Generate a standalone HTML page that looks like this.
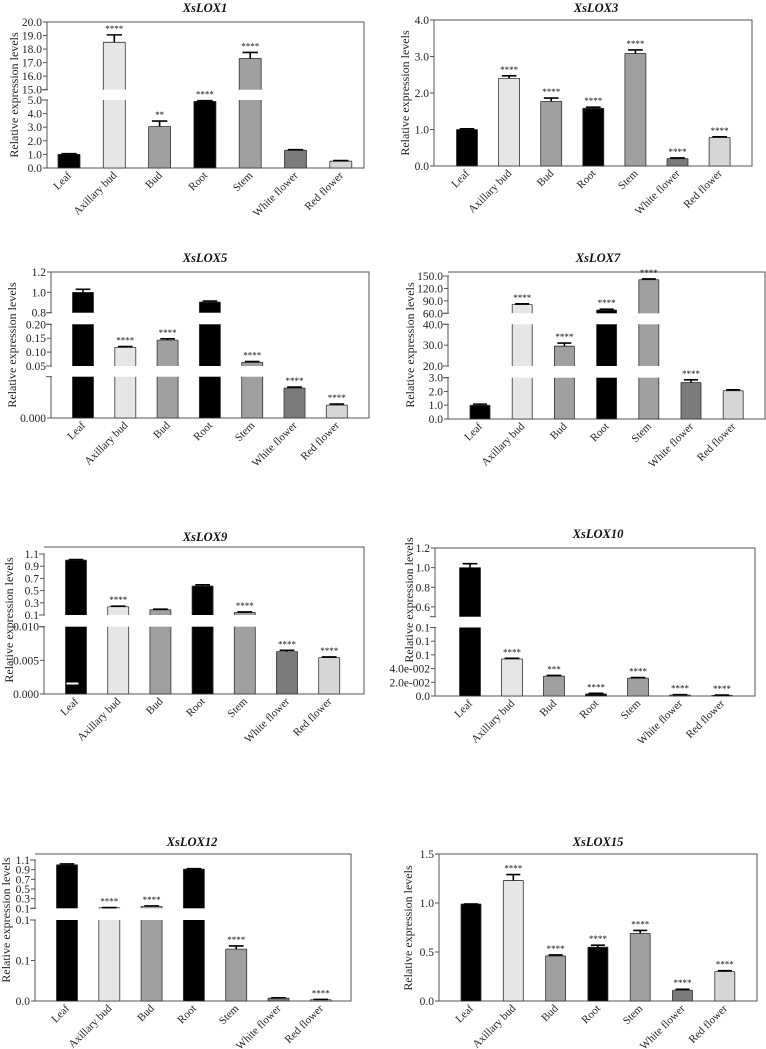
<!DOCTYPE html>
<html><head><meta charset="utf-8"><style>
html,body{margin:0;padding:0;background:#fff;}
svg{display:block;font-family:"Liberation Serif",serif;}
</style></head><body>
<svg id="fig" width="766" height="1049" viewBox="0 0 766 1049" xmlns="http://www.w3.org/2000/svg"></svg>
<script>
const categories = ['Leaf','Axillary bud','Bud','Root','Stem','White flower','Red flower'];
const barColors = ['#000','#e6e6e6','#a0a0a0','#000','#a0a0a0','#7b7b7b','#d6d6d6'];

const lox1Values = [1.0, 18.5, 3.05, 4.9, 17.3, 1.3, 0.5];
const lox1Errors = [0.05, 0.55, 0.4, 0.05, 0.45, 0.05, 0.05];
const lox1Sig = ['', '****', '**', '****', '****', '', ''];

const lox3Values = [1.0, 2.4, 1.77, 1.58, 3.08, 0.2, 0.78];
const lox3Errors = [0.02, 0.07, 0.09, 0.03, 0.1, 0.02, 0.02];
const lox3Sig = ['', '****', '****', '****', '****', '****', '****'];

const lox5Values = [1.0, 0.117, 0.143, 0.905, 0.063, 0.029, 0.0125];
const lox5Errors = [0.03, 0.003, 0.005, 0.01, 0.003, 0.001, 0.001];
const lox5Sig = ['', '****', '****', '', '****', '****', '****'];

const lox7Values = [1.0, 81, 29.5, 68, 141, 2.65, 2.05];
const lox7Errors = [0.08, 2, 1.5, 2, 2, 0.2, 0.07];
const lox7Sig = ['', '****', '****', '****', '****', '****', ''];

const lox9Values = [1.0, 0.235, 0.185, 0.575, 0.14, 0.0063, 0.0054];
const lox9Errors = [0.01, 0.01, 0.01, 0.02, 0.01, 0.0002, 0.0001];
const lox9Sig = ['', '****', '', '', '****', '****', '****'];

const lox10Values = [1.0, 0.054, 0.029, 0.003, 0.026, 0.0015, 0.0008];
const lox10Errors = [0.04, 0.001, 0.001, 0.001, 0.001, 0.0005, 0.0005];
const lox10Sig = ['', '****', '***', '****', '****', '****', '****'];

const lox12Values = [1.0, 0.11, 0.14, 0.91, 0.064, 0.0035, 0.0015];
const lox12Errors = [0.02, 0.005, 0.01, 0.01, 0.004, 0.0005, 0.0005];
const lox12Sig = ['', '****', '****', '', '****', '', '****'];

const lox15Values = [0.99, 1.23, 0.46, 0.55, 0.69, 0.11, 0.30];
const lox15Errors = [0, 0.06, 0.01, 0.02, 0.03, 0.01, 0.01];
const lox15Sig = ['', '****', '****', '****', '****', '****', '****'];

const panels = [
 {name:'xslox1', title:'XsLOX1', tx:205, ty:12, box:[47,22,364,168], cx0:69, step:45.3, bw:22, yt:[14,95], vals:lox1Values, errs:lox1Errors, sig:lox1Sig,
  segs:[{y0:168,y1:100,min:0,max:5,ticks:[0,1,2,3,4,5],labels:['0.0','1.0','2.0','3.0','4.0','5.0']},
        {y0:89.7,y1:22,min:15,max:20,ticks:[15,16,17,18,19,20],labels:['15.0','16.0','17.0','18.0','19.0','20.0']}]},
 {name:'xslox3', title:'XsLOX3', tx:596, ty:12, box:[434,20,752,166], cx0:467, step:42.1, bw:21, yt:[405,93], vals:lox3Values, errs:lox3Errors, sig:lox3Sig,
  segs:[{y0:166,y1:20,min:0,max:4,ticks:[0,1,2,3,4],labels:['0.0','1.0','2.0','3.0','4.0']}]},
 {name:'xslox5', title:'XsLOX5', tx:205, ty:262, box:[51,272,369,418], cx0:83, step:42.3, bw:21, yt:[12,345], vals:lox5Values, errs:lox5Errors, sig:lox5Sig,
  segs:[{y0:418,y1:376.7,min:0,max:0.04,ticks:[0],labels:['0.000']},
        {y0:366,y1:324.3,min:0.05,max:0.2,ticks:[0.05,0.1,0.15,0.2],labels:['0.05','0.10','0.15','0.20']},
        {y0:312.7,y1:272,min:0.8,max:1.2,ticks:[0.8,1.0,1.2],labels:['0.8','1.0','1.2']}]},
 {name:'xslox7', title:'XsLOX7', tx:598, ty:262, box:[448,272,765,419], cx0:480, step:42.2, bw:20, yt:[410,345], vals:lox7Values, errs:lox7Errors, sig:lox7Sig,
  segs:[{y0:419,y1:377.7,min:0,max:3,ticks:[0,1,2,3],labels:['0.0','1.0','2.0','3.0']},
        {y0:366,y1:324.3,min:20,max:40,ticks:[20,30,40],labels:['20.0','30.0','40.0']},
        {y0:313.3,y1:276,min:60,max:150,ticks:[60,90,120,150],labels:['60.0','90.0','120.0','150.0']}]},
 {name:'xslox9', title:'XsLOX9', tx:205, ty:541, box:[44,547,364,694], cx0:76, step:42.2, bw:21, yt:[9,620], vals:lox9Values, errs:lox9Errors, sig:lox9Sig,
  segs:[{y0:694,y1:626.7,min:0,max:0.01,ticks:[0,0.005,0.01],labels:['0.000','0.005','0.010']},
        {y0:615,y1:554,min:0.1,max:1.1,ticks:[0.1,0.3,0.5,0.7,0.9,1.1],labels:['0.1','0.3','0.5','0.7','0.9','1.1']}]},
 {name:'xslox10', title:'XsLOX10', tx:598, ty:538, box:[435,548,755,696], cx0:470, step:42, bw:21, yt:[409,600], vals:lox10Values, errs:lox10Errors, sig:lox10Sig,
  segs:[{y0:696,y1:627.5,min:0,max:0.1,ticks:[0,0.02,0.04,0.06,0.08,0.1],labels:['0.0','2.0e-002','4.0e-002','0.1','0.1','0.1']},
        {y0:616.7,y1:548,min:0.5,max:1.2,ticks:[0.6,0.8,1.0,1.2],labels:['0.6','0.8','1.0','1.2']}]},
 {name:'xslox12', title:'XsLOX12', tx:192, ty:846, box:[35,854,351,1001], cx0:67, step:42.3, bw:21, yt:[6,920], vals:lox12Values, errs:lox12Errors, sig:lox12Sig,
  segs:[{y0:1001,y1:920,min:0,max:0.1,ticks:[0,0.05,0.1],labels:['0.0','0.1','0.1']},
        {y0:908.3,y1:860,min:0.1,max:1.1,ticks:[0.1,0.3,0.5,0.7,0.9,1.1],labels:['0.1','0.3','0.5','0.7','0.9','1.1']}]},
 {name:'xslox15', title:'XsLOX15', tx:598, ty:846, box:[439,854,757,1001], cx0:471, step:42.3, bw:20, yt:[408,928], vals:lox15Values, errs:lox15Errors, sig:lox15Sig,
  segs:[{y0:1001,y1:854,min:0,max:1.5,ticks:[0,0.5,1.0,1.5],labels:['0.0','0.5','1.0','1.5']}]}
];

const NS='http://www.w3.org/2000/svg';
const svg=document.getElementById('fig');
function mk(tag, attrs, parent){
  const e=document.createElementNS(NS,tag);
  for(const k in attrs) e.setAttribute(k, attrs[k]);
  (parent||svg).appendChild(e);
  return e;
}
function segY(s,v){ return s.y0 + (v - s.min)/(s.max - s.min)*(s.y1 - s.y0); }

panels.forEach(p=>{
  const g=mk('g',{});
  
  
  const [L,T,R,B]=p.box;
  const t=mk('text',{x:p.tx,y:p.ty,'text-anchor':'middle','font-size':'12.5','font-weight':'bold','font-style':'italic',fill:'#111'},g);
  t.textContent=p.title;
  
  
  const fr=mk('path',{d:`M${L},${T} H${R} V${B} H${L}`,fill:'none',stroke:'#555','stroke-width':'1'},g);
  
  
  p.vals.forEach((v,i)=>{
    const cx=p.cx0+i*p.step;
    const x0=cx-p.bw/2, x1=cx+p.bw/2;
    p.segs.forEach((s,si)=>{
      if(v<=s.min) return;
      const clipped=v>s.max;
      const vt=Math.min(v,s.max);
      const yTop=segY(s,vt);
      const h=Math.max(0.5,s.y0-yTop);
      const r=mk('rect',{x:x0,y:yTop,width:p.bw,height:h,fill:barColors[i]},g);
      
      
      let d=`M${x0},${yTop} V${s.y0} M${x1},${yTop} V${s.y0}`;
      if(!clipped) d+=` M${x0},${yTop} H${x1}`;
      if(si===0) d+=` M${x0},${s.y0} H${x1}`;
      mk('path',{d:d,stroke:'#333','stroke-width':'0.8',fill:'none'},g);
    });
    const s=p.segs.find(s=>v>s.min && v<=s.max) || p.segs[p.segs.length-1];
    const yv=segY(s,Math.min(v,s.max));
    const ye=segY(s,Math.min(v+p.errs[i],s.max*1.05));
    const cw=p.bw*0.35;
    const eb=mk('path',{d:`M${cx},${yv} V${ye} M${cx-cw},${ye} H${cx+cw}`,stroke:'#000','stroke-width':'1.6',fill:'none'},g);
    
    
    if(p.sig[i]){
      const st=mk('text',{x:cx,y:ye-3,'text-anchor':'middle','font-size':'9',fill:'#111'},g);
      st.textContent=p.sig[i];
      
      
    }
    const xl=mk('text',{x:cx+3,y:B+8,'text-anchor':'end','font-size':'11',fill:'#222',transform:`rotate(-45 ${cx+3} ${B+8})`},g);
    xl.textContent=categories[i];
    
    
  });
  if(p.name==='xslox9'){
    const w=mk('rect',{x:p.cx0-p.bw/2+1,y:682.5,width:12,height:2,fill:'#fff'},g);
    
    
  }
  p.segs.forEach((s,si)=>{
    const ax=mk('line',{x1:L,x2:L,y1:s.y0,y2:s.y1,stroke:'#555','stroke-width':'1'},g);
    
    
    if(p.segs.length>1){
      [s.y0,s.y1].forEach(yy=>{
        if(yy===B||yy===T) return;
        mk('line',{x1:L-5,x2:L+1,y1:yy,y2:yy,stroke:'#555','stroke-width':'1'},g);
      });
    }
    s.ticks.forEach((tv,ti)=>{
      const yy=segY(s,tv);
      mk('line',{x1:L-4,x2:L,y1:yy,y2:yy,stroke:'#555','stroke-width':'1'},g);
      const tl=mk('text',{x:L-5,y:yy+4,'text-anchor':'end','font-size':'11.5',fill:'#222'},g);
      tl.textContent=s.labels[ti];
      
      
    });
  });
  const yt=mk('text',{x:p.yt[0],y:p.yt[1],'text-anchor':'middle','font-size':'12',fill:'#222',transform:`rotate(-90 ${p.yt[0]} ${p.yt[1]})`,'dominant-baseline':'central'},g);
  yt.textContent='Relative expression levels';
  
  
});
</script>
</body></html>
